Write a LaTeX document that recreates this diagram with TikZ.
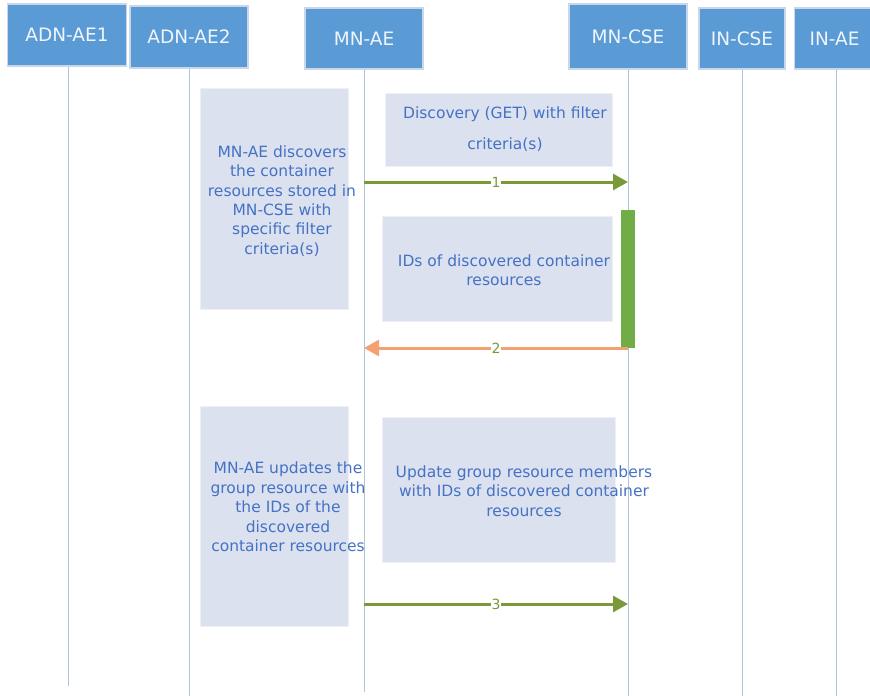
\documentclass[tikz,border=0pt]{standalone}
\usepackage{fontspec}
\setmainfont{DejaVu Sans}
\usetikzlibrary{arrows.meta,positioning}

\definecolor{headblue}{HTML}{5B9BD5}
\definecolor{headedge}{HTML}{C9D7EA}
\definecolor{lifegray}{HTML}{AFC3DB}
\definecolor{notefill}{HTML}{DCE1EF}
\definecolor{noteedge}{HTML}{EEF0F6}
\definecolor{notetext}{HTML}{4472C4}
\definecolor{reqgreen}{HTML}{7A9A3A}
\definecolor{rsporange}{HTML}{F4A070}
\definecolor{actgreen}{HTML}{70AD47}

\begin{document}
\begin{tikzpicture}[x=1pt, y=-1pt,
  lifebox/.style={rectangle, fill=headblue, draw=headedge, line width=1.2pt, text=white!90!headblue, font=\fontsize{18.5}{20}\selectfont, minimum height=62pt, inner sep=0pt},
  lifeline/.style={draw=lifegray, line width=1pt},
  notebox/.style={rectangle, fill=notefill, draw=noteedge, line width=1pt, inner sep=0pt},
  notetxt/.style={text=notetext, align=center, font=\fontsize{15.5}{19.4}\selectfont},
  msg/.style={line width=3pt, -{Triangle[length=15pt,width=16pt]}},
  msgnum/.style={fill=white, inner sep=1pt, font=\fontsize{14}{14}\selectfont, text=reqgreen}]

\useasboundingbox (0,0) rectangle (870,696);

% participants
\node (adn1) [lifebox, minimum width=119pt] at (67,35) {ADN-AE1};
\node (adn2) [lifebox, minimum width=118pt] at (189,37) {ADN-AE2};
\node (mnae) [lifebox, minimum width=118pt, minimum height=61pt] at (364,38.5) {MN-AE};
\node (mncse) [lifebox, minimum width=118pt, minimum height=65pt] at (628,36.5) {MN-CSE};
\node (incse) [lifebox, minimum width=86pt, minimum height=61pt] at (742,38.5) {IN-CSE};
\node (inae) [lifebox, minimum width=80pt, minimum height=61pt, anchor=west] at (794,38.5) {IN-AE};

% lifelines
\coordinate (adn1end) at (68,686);
\coordinate (adn2end) at (189,696);
\coordinate (mnaeend) at (364,692);
\coordinate (mncseend) at (628,696);
\coordinate (incseend) at (742,696);
\coordinate (inaeend) at (836,696);
\draw[lifeline] (adn1.south -| adn1end) -- (adn1end);
\draw[lifeline] (adn2.south) -- (adn2end);
\draw[lifeline] (mnae.south) -- (mnaeend);
\draw[lifeline] (mncse.south) -- (mncseend);
\draw[lifeline] (incse.south) -- (incseend);
\draw[lifeline] (inae.south -| inaeend) -- (inaeend);

% notes
\node (note1) [notebox, minimum width=148pt, minimum height=221pt] at (274,198.5) {};
\node [notetxt] at (282,201) {MN-AE discovers\\the container\\resources stored in\\MN-CSE with\\specific filter\\criteria(s)};
\node (disc) [notebox, minimum width=227pt, minimum height=73pt] at (498.5,129.5) {};
\node [notetxt, font=\fontsize{15.5}{31}\selectfont] at (505,129) {Discovery (GET) with filter\\criteria(s)};
\node (ids) [notebox, minimum width=230pt, minimum height=105pt] at (497,268.5) {};
\node [notetxt] at (504,270) {IDs of discovered container\\resources};
\node (note2) [notebox, minimum width=148pt, minimum height=220pt] at (274,516) {};
\node [notetxt] at (288,507) {MN-AE updates the\\group resource with\\the IDs of the\\discovered\\container resources};
\node (upd) [notebox, minimum width=233pt, minimum height=145pt] at (498.5,489.5) {};
\node [notetxt] at (524,491) {Update group resource members\\with IDs of discovered container\\resources};

% activation
\node (act) [rectangle, fill=actgreen, minimum width=14pt, minimum height=138pt, inner sep=0pt, anchor=north] at (628,210) {};

% messages
\coordinate (m1a) at (364,182);
\coordinate (m1b) at (628,182);
\coordinate (m2a) at (628,348);
\coordinate (m2b) at (364,348);
\coordinate (m3a) at (364,604);
\coordinate (m3b) at (628,604);
\draw[msg, draw=reqgreen, fill=reqgreen] (m1a) -- node[msgnum] {1} (m1b);
\draw[msg, draw=rsporange, fill=rsporange] (m2a) -- node[msgnum] {2} (m2b);
\draw[msg, draw=reqgreen, fill=reqgreen] (m3a) -- node[msgnum] {3} (m3b);

\end{tikzpicture}
\end{document}
